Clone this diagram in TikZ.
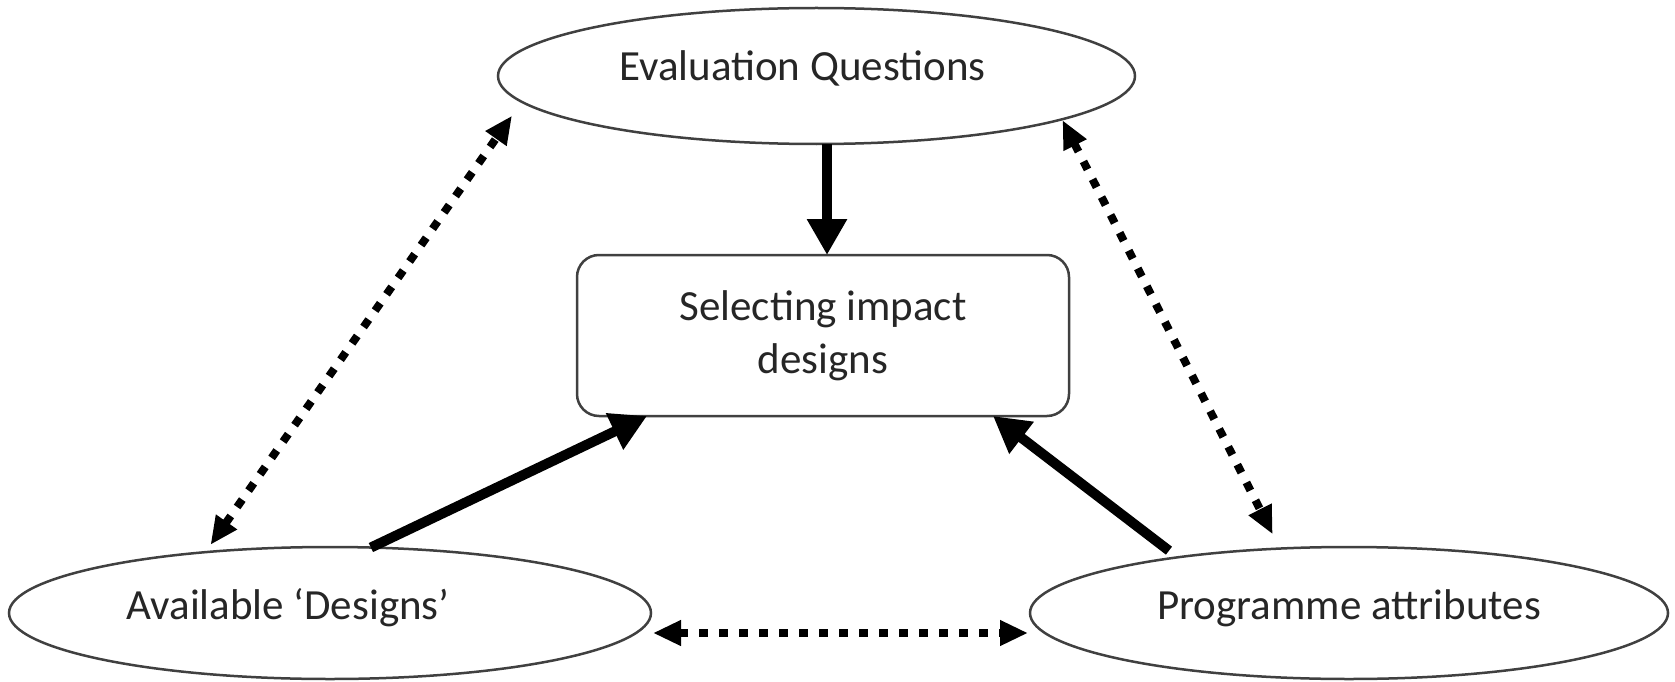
\documentclass[tikz,border=0pt]{standalone}
\usepackage{fontspec}
\setmainfont{Carlito}
\usetikzlibrary{shapes.geometric,arrows.meta}
\begin{document}
\begin{tikzpicture}[x=1pt,y=-1pt,
  ell/.style={ellipse,draw=black!75,line width=2.5pt,inner sep=0pt,outer sep=0pt},
  txt/.style={text=black!85,font=\fontsize{43}{53}\selectfont},
  selbox/.style={rectangle,rounded corners=22pt,draw=black!75,line width=2.5pt,inner sep=0pt,outer sep=0pt,minimum width=492pt,minimum height=161pt,align=center},
  solidarrow/.style={line width=10pt,-{Triangle[length=36pt,width=38pt]}},
  dotarrow/.style={line width=8pt,dash pattern=on 9pt off 11pt,{Triangle[length=28pt,width=24pt]}-{Triangle[length=28pt,width=24pt]}}
]
\fill[white] (0,0) rectangle (1675,682);
\useasboundingbox (0,0) rectangle (1675,682);

\node[ell,minimum width=637pt,minimum height=136pt,
  label={[txt,xshift=-14pt,yshift=8pt]center:Evaluation Questions}] (eq) at (816.5,76) {};
\node[selbox,txt] (sel) at (823,335.5) {Selecting impact\\designs};
\node[ell,minimum width=642pt,minimum height=132pt,
  label={[txt,xshift=-42pt,yshift=5pt]center:Available ‘Designs’}] (ad) at (330,613) {};
\node[ell,minimum width=638pt,minimum height=132pt,
  label={[txt,yshift=5pt]center:Programme attributes}] (pa) at (1349,613) {};

\draw[solidarrow] ([xshift=10.5pt]eq.south) -- ([xshift=4pt]sel.north);
\draw[solidarrow] (ad.58) -- ([xshift=70pt]sel.south west);
\draw[solidarrow,shorten <=11pt] (pa.162.5) -- ([xshift=-76pt]sel.south east);

\draw[dotarrow,shorten <=9pt,shorten >=17pt] (ad.154.6) -- (eq.185.4);
\draw[dotarrow,shorten <=1pt,shorten >=16pt] (eq.350.7) -- (pa.137.4);
\draw[dotarrow] ([shift={(2pt,-20pt)}]ad.east) -- ([shift={(-2pt,-20pt)}]pa.west);
\end{tikzpicture}
\end{document}
